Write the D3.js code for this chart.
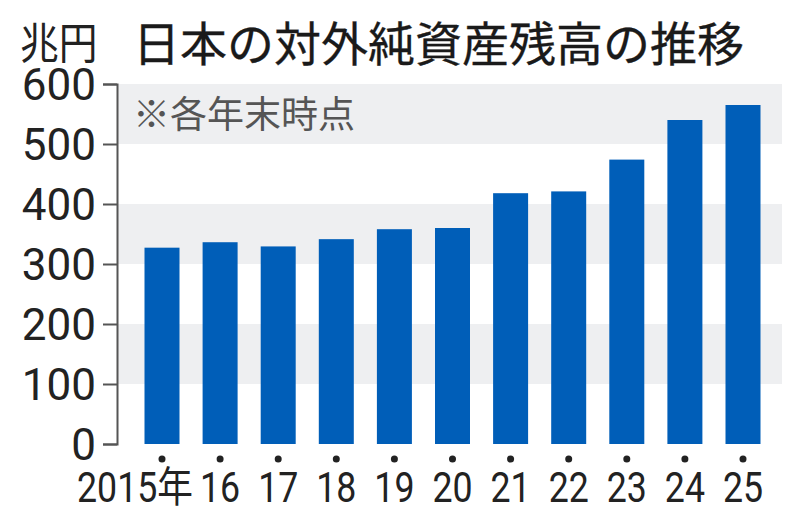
<!DOCTYPE html>
<html>
<head>
<meta charset="utf-8">
<script src="https://cdn.jsdelivr.net/npm/d3@7"></script>
<style>
	html, body { margin: 0; padding: 0; background: #fff; }
	svg { display: block; }
	.cjk { font-family: "Noto Sans CJK JP", sans-serif; }
	.num { font-family: Roboto, "Noto Sans CJK JP", sans-serif; }
</style>
</head>
<body>
<svg class="chart" width="800" height="529"></svg>
<script>
const years = ['2015', '16', '17', '18', '19', '20', '21', '22', '23', '24', '25'];
const yearLabels = ['2015年', '16', '17', '18', '19', '20', '21', '22', '23', '24', '25'];
const values = [327.2, 336.3, 329.3, 341.4, 358.0, 360.0, 418.0, 421.0, 474.0, 540.0, 565.0];
const yTicks = [0, 100, 200, 300, 400, 500, 600];
const bands = [[100, 200], [300, 400], [500, 600]];

function startApp() {
	const plot = {left: 117, right: 782, top: 84, bottom: 444};
	const svg = d3.select('.chart');

	const yScale = d3.scaleLinear().domain([0, 600]).range([plot.bottom, plot.top]);
	const xScale = d3.scalePoint().domain(years).range([162, 743]);
	const barWidth = 35;

	// grey bands behind the bars
	svg.append('g')
		.selectAll('rect')
		.data(bands)
		.enter()
			.append('rect')
			.attr('x', plot.left + 1)
			.attr('width', plot.right - plot.left - 1)
			.attr('y', ([lo, hi]) => yScale(hi))
			.attr('height', ([lo, hi]) => yScale(lo) - yScale(hi))
			.attr('fill', '#eeeff1');

	svg.append('text')
		.classed('cjk', true)
		.attr('x', 133)
		.attr('y', 128)
		.attr('font-size', 37)
		.attr('fill', '#555')
		.text('※各年末時点');

	svg.append('g')
		.selectAll('rect')
		.data(values)
		.enter()
			.append('rect')
			.attr('x', (v, i) => xScale(years[i]) - barWidth / 2)
			.attr('width', barWidth)
			.attr('y', v => yScale(v))
			.attr('height', v => yScale(0) - yScale(v))
			.attr('fill', '#005eb8');

	const yAxis = d3.axisLeft(yScale)
		.tickValues(yTicks)
		.tickSize(14)
		.tickSizeOuter(14)
		.tickPadding(7);
	const yAxisG = svg.append('g')
		.attr('transform', `translate(${plot.left}, 0)`)
		.call(yAxis);
	yAxisG.selectAll('path, line')
		.attr('stroke', '#555')
		.attr('stroke-width', 2);
	yAxisG.selectAll('text')
		.classed('num', true)
		.attr('font-size', 44)
		.attr('fill', '#222')
		.attr('dy', '0.36em');

	// dots under each bar
	svg.append('g')
		.selectAll('circle')
		.data(years)
		.enter()
			.append('circle')
			.attr('cx', d => xScale(d))
			.attr('cy', 459)
			.attr('r', 3.5)
			.attr('fill', '#222');

	svg.append('g')
		.selectAll('text')
		.data(years)
		.enter()
			.append('text')
			.classed('num', true)
			.attr('transform', (d, i) => i === 0
				? `translate(${xScale(d) + 31}, 502) scale(0.85, 1)`
				: `translate(${xScale(d)}, 502) scale(0.85, 1)`)
			.attr('text-anchor', (d, i) => i === 0 ? 'end' : 'middle')
			.attr('font-size', 42)
			.attr('fill', '#222')
			.text((d, i) => yearLabels[i]);

	svg.append('text')
		.classed('cjk', true)
		.attr('transform', 'translate(20, 59) scale(0.9, 1)')
		.attr('font-size', 43)
		.attr('fill', '#222')
		.text('兆円');

	svg.append('text')
		.classed('cjk', true)
		.attr('x', 133)
		.attr('y', 61)
		.attr('font-size', 47)
		.attr('fill', '#1a1a1a')
		.attr('stroke', '#1a1a1a')
		.attr('stroke-width', 0.3)
		.text('日本の対外純資産残高の推移');
}

window.onload = startApp;
</script>
</body>
</html>
